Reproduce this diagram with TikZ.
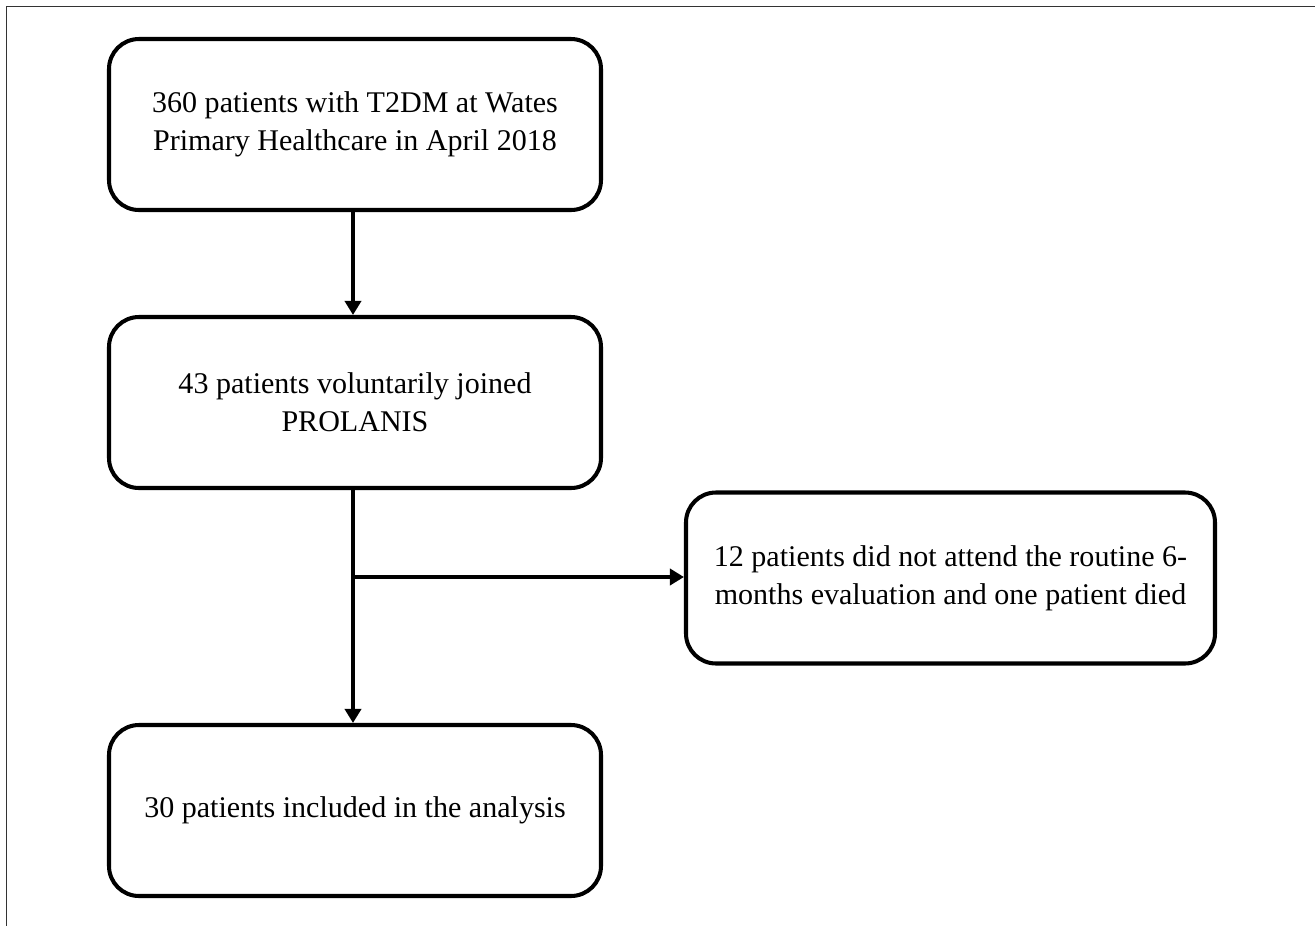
\documentclass[tikz,border=0pt]{standalone}
\usepackage{fontspec}
\setmainfont{Liberation Serif}
\usetikzlibrary{arrows.meta}
\tikzset{
  stagebox/.style={draw, line width=1.15pt, rounded corners=0.3cm, minimum width=4.92cm, minimum height=1.71cm, align=center, font=\fontsize{8.55pt}{10.7pt}\selectfont},
  flow/.style={line width=1.15pt, -{Triangle[length=0.14cm,width=0.16cm]}}
}
\begin{document}
\begin{tikzpicture}
\useasboundingbox (0,0) rectangle (13.15,-9.26);
\draw[line width=0.55pt, black!80] (0.065,-9.26) -- (0.065,-0.065) -- (13.15,-0.065);
\node[stagebox] (total) at (3.55,-1.245) {360 patients with T2DM at Wates\\Primary Healthcare in April 2018};
\node[stagebox] (joined) at (3.55,-4.025) {43 patients voluntarily joined\\PROLANIS};
\node[stagebox, minimum width=5.29cm] (lost) at (9.505,-5.78) {12 patients did not attend the routine 6-\\months evaluation and one patient died};
\node[stagebox] (analysis) at (3.55,-8.105) {30 patients included in the analysis};
\coordinate (split) at (3.53,-5.77);
\draw[flow] (total.south -| 3.53,0) -- (joined.north -| 3.53,0);
\draw[flow] (joined.south -| 3.53,0) -- (analysis.north -| 3.53,0);
\draw[flow] (split) -- (split -| lost.west);
\end{tikzpicture}
\end{document}
